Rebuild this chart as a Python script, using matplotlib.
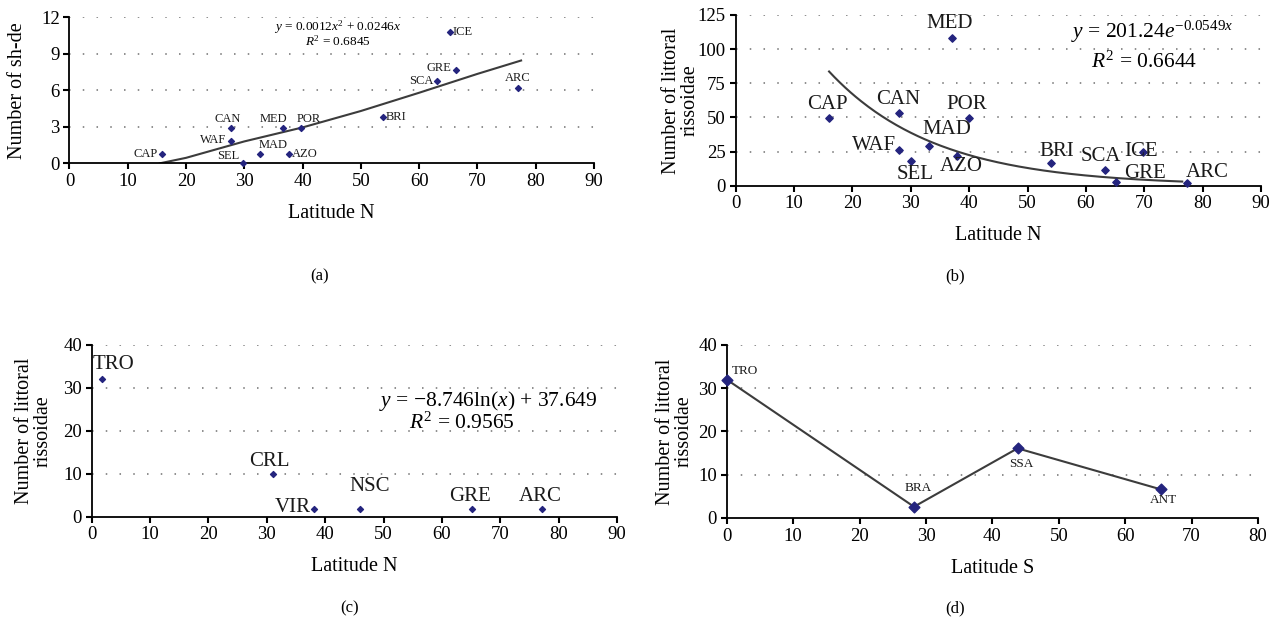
import numpy as np
import matplotlib
matplotlib.use("Agg")
import matplotlib.pyplot as plt

#------------------------------------------data----------------------------------
# (a) number of sh-de vs latitude N
a_names = ["CAP", "CAN", "WAF", "SEL", "MAD", "MED", "POR", "AZO", "BRI", "SCA", "GRE", "ICE", "ARC"]
a_lat = [15.8, 27.7, 27.7, 29.7, 32.7, 36.7, 39.7, 37.7, 53.8, 63.0, 66.3, 65.3, 77.0]
a_val = [0.8, 2.9, 1.8, 0.0, 0.8, 2.9, 2.9, 0.8, 3.8, 6.8, 7.7, 10.8, 6.2]
a_trend_x = [15.5, 20, 30, 40, 50, 60, 70, 77.5]
a_trend_y = [0.0, 0.45, 1.8, 2.95, 4.3, 5.8, 7.35, 8.45]

# (b) littoral rissoidae vs latitude N
b_names = ["CAP", "CAN", "POR", "MED", "MAD", "WAF", "SEL", "AZO", "BRI", "SCA", "ICE", "GRE", "ARC"]
b_lat = [16.0, 28.0, 40.0, 37.1, 33.1, 28.0, 30.0, 38.0, 54.0, 63.2, 69.7, 65.2, 77.3]
b_val = [49.5, 52.9, 49.5, 108.4, 29.2, 26.1, 18.0, 21.9, 16.8, 11.5, 25.0, 2.9, 2.2]
b_coef = (201.24, -0.0549)   # y = a*exp(b*x), from the chart
b_fit_range = (16.0, 76.5)

# (c) littoral rissoidae vs latitude N
c_names = ["TRO", "CRL", "VIR", "NSC", "GRE", "ARC"]
c_lat = [1.8, 31.0, 38.0, 46.0, 65.2, 77.1]
c_val = [32.0, 9.9, 1.9, 1.9, 1.9, 1.9]

# (d) littoral rissoidae vs latitude S
d_names = ["TRO", "BRA", "SSA", "ANT"]
d_lat = [0.0, 28.2, 43.8, 65.4]
d_val = [32.0, 2.6, 16.1, 6.6]

#------------------------------------------style----------------------------------
plt.rcParams['font.family'] = ['Liberation Serif', 'DejaVu Serif']
plt.rcParams['mathtext.fontset'] = 'custom'
plt.rcParams['mathtext.rm'] = 'Liberation Serif'
plt.rcParams['mathtext.it'] = 'Liberation Serif:italic'

navy = '#24247e'
linec = '#3c3c3c'
tick_fs = 13.5
lab_fs = 14.5

fig = plt.figure(figsize=(12.77, 6.21), dpi=100)

def setup(ax, ymax, ystep, xmax, ylabel, xlabel):
    ax.set_xlim(0, xmax)
    ax.set_ylim(0, ymax)
    ax.set_xticks(np.arange(0, xmax + 1, 10))
    ax.set_yticks(np.arange(0, ymax + 0.1, ystep))
    for s in ['top', 'right']:
        ax.spines[s].set_visible(False)
    for s in ['left', 'bottom']:
        ax.spines[s].set_linewidth(1.3)
    ax.tick_params(direction='out', length=4, width=1.5, labelsize=tick_fs, pad=3)
    for yv in np.arange(ystep, ymax + 0.1, ystep):
        ax.axhline(yv, color='#707070', lw=1.1, ls=(0, (1, 8)), zorder=0)
    ax.set_ylabel(ylabel, fontsize=lab_fs, linespacing=1.0)
    ax.set_xlabel(xlabel, fontsize=lab_fs, labelpad=10)

def put_labels(ax, names, xs, ys, offs, fs):
    for n, x, y in zip(names, xs, ys):
        dx, dy, ha, va = offs[n]
        ax.annotate(n, (x, y), xytext=(dx, dy), textcoords='offset points',
                    ha=ha, va=va, fontsize=fs, color='#1a1a1a')

#------------------------------------------(a)----------------------------------
ax = fig.add_axes([0.0544, 0.737, 0.4107, 0.2351])
setup(ax, 12, 3, 90, "Number of sh-de", "Latitude N")
ax.yaxis.set_label_coords(-0.081, 0.5)
ax.plot(a_trend_x, a_trend_y, color=linec, lw=1.5, zorder=2)
ax.scatter(a_lat, a_val, marker='D', s=9, color=navy, zorder=3, clip_on=False)
a_offs = {"CAP": (-3, 0, 'right', 'center'), "CAN": (-2, 2, 'center', 'bottom'),
          "WAF": (-3, 1, 'right', 'center'), "SEL": (-2, 1, 'right', 'bottom'),
          "MAD": (-1, 2, 'left', 'bottom'), "MED": (-7, 2, 'center', 'bottom'),
          "POR": (6, 2, 'center', 'bottom'), "AZO": (2, 0, 'left', 'center'),
          "BRI": (2, 0, 'left', 'center'), "SCA": (-2, 0, 'right', 'center'),
          "GRE": (-3, 1, 'right', 'center'), "ICE": (2, 0, 'left', 'center'),
          "ARC": (0, 3, 'center', 'bottom')}
put_labels(ax, a_names, a_lat, a_val, a_offs, 9)
ax.text(46, 11.2, r'$y$ = 0.0012$x^2$ + 0.0246$x$', ha='center', va='center', fontsize=9.5)
ax.text(46, 10.05, r'$R^2$ = 0.6845', ha='center', va='center', fontsize=9.5)

#------------------------------------------(b)----------------------------------
ax = fig.add_axes([0.5761, 0.701, 0.4114, 0.2749])
setup(ax, 125, 25, 90, "Number of littoral\nrissoidae", "Latitude N")
ax.yaxis.set_label_coords(-0.068, 0.5)
xf = np.linspace(b_fit_range[0], b_fit_range[1], 200)
ax.plot(xf, b_coef[0] * np.exp(b_coef[1] * xf), color=linec, lw=1.5, zorder=2)
ax.scatter(b_lat, b_val, marker='D', s=14, color=navy, zorder=3, clip_on=False)
b_offs = {"CAP": (-1, 3, 'center', 'bottom'), "CAN": (-1, 3, 'center', 'bottom'),
          "POR": (-2, 3, 'center', 'bottom'), "MED": (-2, 3, 'center', 'bottom'),
          "MAD": (13, 5, 'center', 'bottom'), "WAF": (-2, 3, 'right', 'center'),
          "SEL": (3, -3, 'center', 'top'), "AZO": (3, -1, 'center', 'top'),
          "BRI": (4, 1, 'center', 'bottom'), "SCA": (-3, 3, 'center', 'bottom'),
          "ICE": (-1, 0, 'center', 'center'), "GRE": (6, 6, 'left', 'center'),
          "ARC": (-1, 7, 'left', 'center')}
put_labels(ax, b_names, b_lat, b_val, b_offs, 15)
ax.text(71.3, 112.5, r'$y$ = 201.24$e^{-0.0549x}$', ha='center', va='center', fontsize=15.5)
ax.text(70, 90.6, r'$R^2$ = 0.6644', ha='center', va='center', fontsize=15.5)

#------------------------------------------(c)----------------------------------
ax = fig.add_axes([0.0718, 0.168, 0.4114, 0.2765])
setup(ax, 40, 10, 90, "Number of littoral\nrissoidae", "Latitude N")
ax.yaxis.set_label_coords(-0.074, 0.5)
ax.scatter(c_lat, c_val, marker='D', s=9, color=navy, zorder=3, clip_on=False)
c_offs = {"TRO": (8, 4, 'center', 'bottom'), "CRL": (-2, 2, 'center', 'bottom'),
          "VIR": (-2, 1, 'right', 'center'), "NSC": (7, 9, 'center', 'bottom'),
          "GRE": (-2, 2, 'center', 'bottom'), "ARC": (-1, 2, 'center', 'bottom')}
put_labels(ax, c_names, c_lat, c_val, c_offs, 15)
ax.text(67.9, 27, r'$y$ = $-$8.746ln($x$) + 37.649', ha='center', va='center', fontsize=15.5)
ax.text(63.4, 21.8, r'$R^2$ = 0.9565', ha='center', va='center', fontsize=15.5)

#------------------------------------------(d)----------------------------------
ax = fig.add_axes([0.5691, 0.1659, 0.416, 0.2786])
setup(ax, 40, 10, 80, "Number of littoral\nrissoidae", "Latitude S")
ax.yaxis.set_label_coords(-0.062, 0.5)
ax.plot(d_lat, d_val, color=linec, lw=1.5, zorder=2, clip_on=False)
ax.scatter(d_lat, d_val, marker='D', s=30, color=navy, zorder=3, clip_on=False)
d_offs = {"TRO": (4, 6, 'left', 'center'), "BRA": (3, 9, 'center', 'bottom'),
          "SSA": (3, -7, 'center', 'top'), "ANT": (2, -3, 'center', 'top')}
put_labels(ax, d_names, d_lat, d_val, d_offs, 9.5)

#------------------------------------------panel letters----------------------------------
for lab, x, y in [("(a)", 320, 276), ("(b)", 955, 276), ("(c)", 350, 608), ("(d)", 955, 608)]:
    fig.text(x / 1277, 1 - y / 621, lab, ha='center', va='center', fontsize=12)

fig.savefig("out.png", dpi=100)
